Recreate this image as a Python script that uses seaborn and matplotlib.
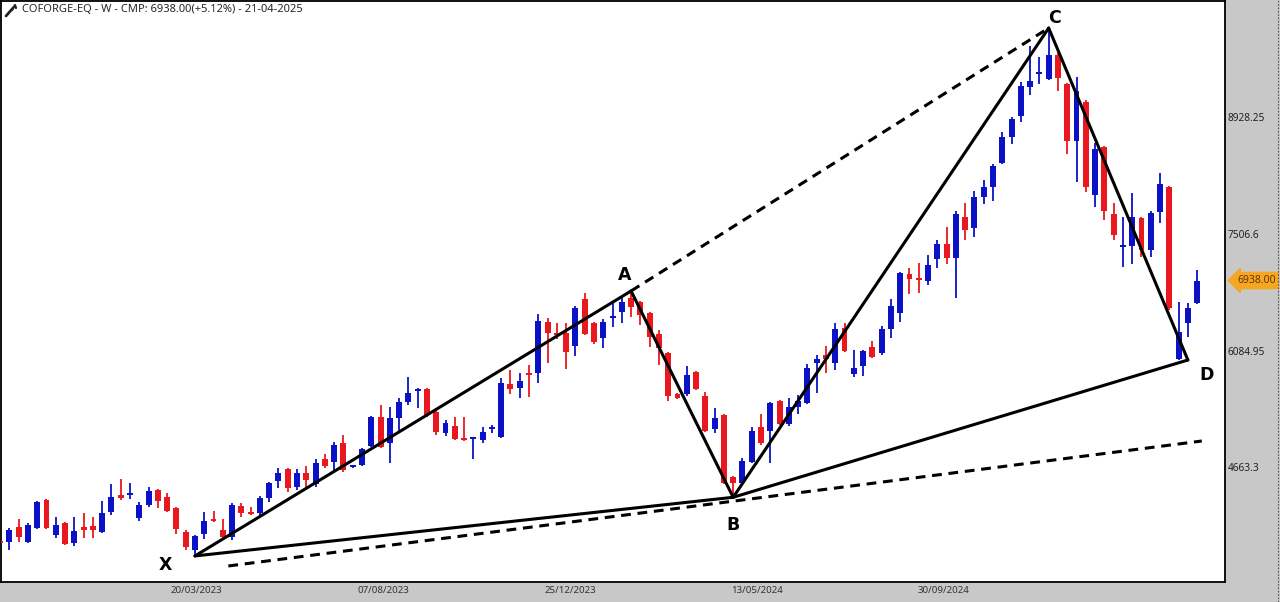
import matplotlib
matplotlib.use("Agg")
import matplotlib.pyplot as plt
import matplotlib.transforms as mtransforms
from matplotlib.lines import Line2D
import numpy as np
import pandas as pd
import seaborn as sns

# ---------------- data (weekly candles, COFORGE-EQ) ----------------
opens = [3768, 3756, 3938, 3756, 3926, 4267, 3841, 3987, 3744, 3938,
         3951, 3878, 4121, 4328, 4328, 4048, 4206, 4389, 4304, 4170,
         3878, 3659, 3853, 4036, 3902, 3817, 4194, 4121, 4109, 4292,
         4498, 4644, 4425, 4596, 4462, 4766, 4730, 4961, 4669, 4693,
         4924, 5277, 4961, 5265, 5460, 5594, 5618, 5338, 5082, 5168,
         5022, 5009, 4997, 5131, 5034, 5679, 5630, 5801, 5813, 6433,
         6299, 6299, 6141, 6713, 6421, 6239, 6482, 6555, 6726, 6677,
         6543, 6287, 6056, 5557, 5557, 5825, 5533, 5131, 5301, 4547,
         4474, 4730, 5155, 5107, 5472, 5192, 5399, 5447, 5934, 6032,
         5934, 6360, 5801, 5898, 6129, 6056, 6348, 6543, 7018, 6969,
         6932, 7200, 7383, 7212, 7711, 7577, 7955, 8076, 8368, 8685,
         8940, 9293, 9451, 9391, 9683, 9330, 8636, 9111, 7979, 8563,
         7748, 7346, 7358, 7699, 7310, 7772, 8076, 5983, 6421, 6664]
highs = [3817, 3926, 4036, 3987, 4255, 4275, 4060, 3999, 4060, 4109,
         4060, 4255, 4462, 4523, 4474, 4243, 4425, 4400, 4352, 4182,
         3902, 3841, 4121, 4133, 4036, 4230, 4230, 4182, 4316, 4486,
         4657, 4656, 4644, 4681, 4766, 4827, 4973, 5058, 4693, 4900,
         5289, 5423, 5399, 5509, 5764, 5625, 5630, 5362, 5241, 5277,
         5277, 5030, 5155, 5180, 5752, 5849, 5813, 5910, 6531, 6482,
         6421, 6421, 6628, 6786, 6433, 6470, 6664, 6726, 6811, 6690,
         6555, 6336, 6068, 5570, 5898, 5837, 5582, 5387, 5314, 4559,
         4778, 5155, 5314, 5460, 5484, 5509, 5545, 5922, 6032, 6141,
         6421, 6421, 6093, 6093, 6202, 6385, 6713, 7042, 7091, 7151,
         7249, 7431, 7589, 7784, 7881, 8028, 8162, 8356, 8746, 8928,
         9354, 9792, 9658, 10011, 9707, 9342, 9415, 9135, 8612, 8575,
         7881, 7711, 8003, 7711, 7784, 8247, 8090, 6677, 6664, 7066]
lows = [3707, 3659, 3756, 3745, 3915, 3915, 3805, 3719, 3707, 3805,
        3805, 3865, 4084, 4267, 4279, 4011, 4182, 4170, 4121, 3853,
        3659, 3586, 3792, 3999, 3805, 3780, 4060, 4090, 4084, 4243,
        4413, 4365, 4389, 4425, 4425, 4657, 4596, 4608, 4657, 4681,
        4912, 4900, 4717, 5095, 5423, 5387, 5277, 5058, 5046, 4997,
        4990, 4766, 4961, 5082, 5022, 5557, 5509, 5521, 5691, 5934,
        6226, 5861, 6020, 6275, 6166, 6117, 6372, 6421, 6494, 6397,
        6129, 5910, 5472, 5496, 5533, 5606, 5095, 5082, 4462, 4300,
        4462, 4717, 4936, 4717, 5180, 5168, 5314, 5435, 5569, 5813,
        5849, 6068, 5764, 5776, 5995, 6032, 6239, 6433, 6774, 6786,
        6884, 7091, 7139, 6726, 7431, 7468, 7869, 7906, 8356, 8600,
        8867, 9196, 9330, 9378, 9245, 8478, 8137, 8016, 7833, 7675,
        7431, 7103, 7139, 7224, 7224, 7638, 6579, 5971, 6251, 6650]
closes = [3744, 3902, 3817, 3963, 4243, 3926, 3963, 3732, 3890, 3902,
          3902, 4109, 4304, 4292, 4340, 4206, 4377, 4255, 4133, 3914,
          3695, 3829, 4011, 4011, 3817, 4206, 4109, 4097, 4292, 4474,
          4596, 4413, 4596, 4511, 4717, 4681, 4936, 4632, 4681, 4888,
          5277, 4912, 5265, 5460, 5569, 5618, 5301, 5095, 5204, 5009,
          4997, 5022, 5095, 5143, 5691, 5618, 5715, 5788, 6445, 6299,
          6275, 6068, 6604, 6287, 6190, 6433, 6494, 6677, 6616, 6518,
          6251, 6117, 5533, 5509, 5788, 5618, 5107, 5265, 4474, 4474,
          4742, 5107, 4961, 5447, 5192, 5399, 5472, 5874, 5983, 5983,
          6348, 6080, 5874, 6080, 6007, 6348, 6628, 7030, 6957, 6945,
          7127, 7383, 7212, 7748, 7553, 7955, 8076, 8332, 8685, 8904,
          9305, 9366, 9464, 9683, 9403, 8636, 9245, 8076, 8539, 7784,
          7492, 7370, 7711, 7310, 7760, 8113, 6604, 6312, 6604, 6938.00]

date_labels = ["20/03/2023", "07/08/2023", "25/12/2023", "13/05/2024", "30/09/2024"]
date_label_pos = [21.2, 41.3, 61.5, 81.6, 101.7]

price_ticks = [8928.25, 7506.6, 6084.95, 4663.3]
price_tick_labels = ["8928.25", "7506.6", "6084.95", "4663.3"]

pattern_names = ["X", "A", "B", "C", "D"]
pattern_idx = [21, 68, 79, 113, 128]
pattern_price = [3586, 6811, 4300, 10011, 5971]

support_idx = [24.6, 129.5]
support_price = [3464, 4985]

cmp_price = 6938.00
title = "COFORGE-EQ - W - CMP: 6938.00(+5.12%) - 21-04-2025"

# ---------------- styling ----------------
UP = "#0B12C6"
DOWN = "#E8181E"
PANEL = "#C8C8C8"

sns.set_theme(style="white")
plt.rcParams["font.family"] = ["Noto Sans", "DejaVu Sans"]

df = pd.DataFrame({"open": opens, "high": highs, "low": lows, "close": closes})
df["idx"] = np.arange(len(df))
df["up"] = df["close"] >= df["open"]
df["body_lo"] = df[["open", "close"]].min(axis=1)
df["body_h"] = (df["close"] - df["open"]).abs().clip(lower=22)

fig = plt.figure(figsize=(12.8, 6.02), dpi=100, facecolor=PANEL)
ax = fig.add_axes([1 / 1280, 20 / 602, 1224 / 1280, 581 / 602])
ax.set_facecolor("white")

for up, col in [(True, UP), (False, DOWN)]:
    sub = df[df["up"] == up]
    ax.vlines(sub["idx"], sub["low"], sub["high"], color=col, lw=1.3, zorder=2)
    ax.bar(sub["idx"], sub["body_h"], bottom=sub["body_lo"], width=0.64,
           color=col, edgecolor=col, linewidth=0, zorder=3)

pts = dict(zip(pattern_names, zip(pattern_idx, pattern_price)))
solid_legs = [("X", "A"), ("A", "B"), ("B", "C"), ("C", "D"), ("X", "B"), ("B", "D")]
for a, b in solid_legs:
    seg = pd.DataFrame({"x": [pts[a][0], pts[b][0]], "y": [pts[a][1], pts[b][1]]})
    sns.lineplot(data=seg, x="x", y="y", ax=ax, color="black", lw=2.2,
                 sort=False, zorder=5)
seg = pd.DataFrame({"x": [pts["A"][0], pts["C"][0]], "y": [pts["A"][1], pts["C"][1]]})
sns.lineplot(data=seg, x="x", y="y", ax=ax, color="black", lw=2.2, sort=False,
             zorder=5, linestyle=(0, (3.2, 2.2)))
seg = pd.DataFrame({"x": support_idx, "y": support_price})
sns.lineplot(data=seg, x="x", y="y", ax=ax, color="black", lw=2.2, sort=False,
             zorder=5, linestyle=(0, (3.2, 2.2)))

label_offsets = {"X": (-30, -9), "A": (-6, 16), "B": (0, -28), "C": (6, 10), "D": (19, -15)}
for name in pattern_names:
    ax.annotate(name, xy=pts[name], xytext=label_offsets[name], textcoords="offset pixels",
                ha="center", va="center", fontsize=12.5, fontweight="bold",
                color="black", family="DejaVu Sans", zorder=6)

ax.set_xlim(0.1, 132.0)
ax.set_ylim(3269, 10340)

ax.set_xticks(date_label_pos)
ax.set_xticklabels(date_labels)
ax.yaxis.tick_right()
ax.set_yticks(price_ticks)
ax.set_yticklabels(price_tick_labels)
ax.tick_params(axis="x", length=0, pad=3, labelsize=7, labelcolor="#333333")
ax.tick_params(axis="y", length=0, pad=2, labelsize=7.3, labelcolor="#222222")
ax.set_xlabel("")
ax.set_ylabel("")
for s in ax.spines.values():
    s.set_visible(True)
    s.set_color("black")
    s.set_linewidth(1.3)

trans = mtransforms.blended_transform_factory(ax.transAxes, ax.transData)
ax.text(1.0 + 12 / 1224, cmp_price, "6938.00", transform=trans, ha="left", va="center",
        fontsize=7.5, color="#6b3500",
        bbox=dict(boxstyle="larrow,pad=0.25", fc="#F5A623", ec="#F5A623"),
        clip_on=False, zorder=7)

fig.text(22 / 1280, 592 / 602, title, ha="left", va="center", fontsize=8,
         color="#262626")

# small wrench glyph next to the title
W, H = 1280, 602
fig.add_artist(Line2D([6 / W, 13 / W], [(H - 16) / H, (H - 8) / H], color="#222222",
                      lw=2.0, solid_capstyle="round", transform=fig.transFigure))
fig.add_artist(Line2D([12 / W, 15 / W, 16 / W], [(H - 10) / H, (H - 5) / H, (H - 8) / H],
                      color="#222222", lw=1.6, transform=fig.transFigure))
# dotted right edge of the price panel
fig.add_artist(Line2D([1278 / W, 1278 / W], [0, 1], color="#555555", lw=0.8,
                      linestyle=(0, (1.5, 1.5)), transform=fig.transFigure))

fig.savefig("out.png", dpi=100, facecolor=PANEL)
